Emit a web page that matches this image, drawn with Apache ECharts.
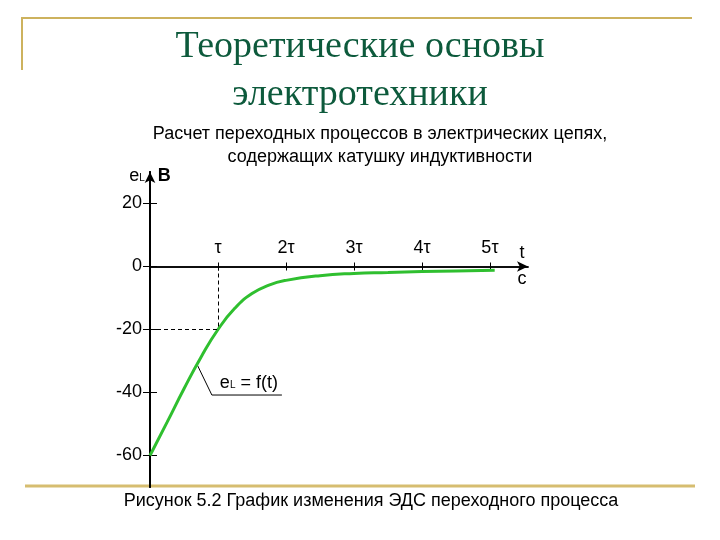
<!DOCTYPE html>
<html>
<head>
<meta charset="utf-8">
<script src="https://cdn.jsdelivr.net/npm/echarts@6/dist/echarts.min.js"></script>
<style>
  html, body { margin: 0; background: #fff; }
  #chart-container { width: 720px; height: 540px; }
</style>
</head>
<body>
<div id="chart-container"></div>
<script>
// t в долях tau, eL в вольтах
var tValues = [0, 0.25, 0.5, 0.75, 1, 1.25, 1.5, 1.75, 2, 2.5, 3, 3.5, 4, 4.5, 5.07];
var eValues = [-60, -49.5, -38.8, -28.8, -20, -13.2, -8.6, -5.9, -4.4, -2.9, -2.2, -1.9, -1.6, -1.4, -1.2];
var xTicks = [1, 2, 3, 4, 5];
var xTickLabels = ["τ", "2τ", "3τ", "4τ", "5τ"];
var yTicks = [20, 0, -20, -40, -60];
var tauPoint = [1, -20];
var leaderLine = [[0.69, -31], [0.91, -40.8], [1.94, -40.8]];

var dom = document.getElementById("chart-container");
var myChart = echarts.init(dom, null, { renderer: "canvas" });

var curve = tValues.map(function (t, i) {
  return [t, eValues[i]];
});

var sans = '"Liberation Sans", Arial, sans-serif';
var gold = "#cdb25e";

var xBase = {
  type: "value",
  min: 0,
  max: 5.56,
  splitLine: { show: false },
  axisLabel: { show: false },
  axisLine: { onZero: true, lineStyle: { color: "#000", width: 1.5 } }
};
var yBase = {
  type: "value",
  min: -70,
  max: 30,
  splitLine: { show: false },
  axisLine: { onZero: true, lineStyle: { color: "#000", width: 2 } }
};

var option = {
  animation: false,
  backgroundColor: "#fff",
  grid: { left: 150, top: 172, width: 378, height: 315 },
  xAxis: [
    Object.assign({}, xBase, {
      position: "top",
      axisLine: {
        onZero: true,
        symbol: ["none", "arrow"],
        symbolSize: [8, 11],
        lineStyle: { color: "#000", width: 1.5 }
      },
      axisTick: { customValues: xTicks, length: 4, lineStyle: { color: "#000" } },
      name: "t\nc",
      nameLocation: "end",
      nameGap: -6,
      nameTextStyle: { color: "#000", fontSize: 18, lineHeight: 26, fontFamily: sans, align: "center" }
    }),
    Object.assign({}, xBase, {
      position: "bottom",
      axisTick: { customValues: xTicks, length: 4, lineStyle: { color: "#000" } }
    })
  ],
  yAxis: [
    Object.assign({}, yBase, {
      position: "left",
      axisLine: {
        onZero: true,
        symbol: ["none", "arrow"],
        symbolSize: [8, 11],
        lineStyle: { color: "#000", width: 2 }
      },
      axisTick: { customValues: yTicks, length: 7, lineStyle: { color: "#000" } },
      axisLabel: { customValues: yTicks, margin: 8, color: "#000", fontSize: 18, fontFamily: sans },
      name: "{e|e}{s|L}{g|}{b|В}",
      nameLocation: "end",
      nameGap: -13,
      nameTextStyle: {
        rich: {
          e: { fontSize: 18, fontFamily: sans, color: "#000" },
          s: { fontSize: 10, fontFamily: sans, color: "#000", padding: [5, 0, 0, 0] },
          g: { width: 13 },
          b: { fontSize: 18, fontFamily: sans, fontWeight: "bold", color: "#000" }
        }
      }
    }),
    Object.assign({}, yBase, {
      position: "left",
      axisTick: { customValues: yTicks, inside: true, length: 7, lineStyle: { color: "#000" } },
      axisLabel: { show: false }
    })
  ],
  series: [
    {
      name: "eL",
      type: "line",
      data: curve,
      smooth: 0.5,
      symbol: "none",
      lineStyle: { color: "#2fbf2f", width: 3 },
      z: 3,
      markLine: {
        silent: true,
        symbol: "none",
        label: { show: false },
        lineStyle: { color: "#000", width: 1, type: [4, 3] },
        data: [
          [{ coord: [tauPoint[0], 0] }, { coord: tauPoint }],
          [{ coord: [0, tauPoint[1]] }, { coord: tauPoint }]
        ]
      }
    },
    {
      name: "leader",
      type: "line",
      data: leaderLine,
      symbol: "none",
      lineStyle: { color: "#000", width: 1 },
      z: 2
    },
    {
      // подписи делений оси t над осью
      name: "tauLabels",
      type: "scatter",
      silent: true,
      symbolSize: 0,
      itemStyle: { opacity: 1 },
      data: xTicks.map(function (k) {
        return [k, 0];
      }),
      label: {
        show: true,
        position: "top",
        distance: 9,
        color: "#000",
        opacity: 1,
        fontSize: 18,
        fontFamily: sans,
        formatter: function (p) {
          return xTickLabels[p.dataIndex];
        }
      }
    }
  ],
  graphic: [
    { type: "line", shape: { x1: 22, y1: 18, x2: 692, y2: 18 }, style: { stroke: gold, lineWidth: 2 } },
    { type: "line", shape: { x1: 22, y1: 17, x2: 22, y2: 70 }, style: { stroke: gold, lineWidth: 2 } },
    { type: "line", shape: { x1: 25, y1: 486, x2: 695, y2: 486 }, style: { stroke: "#d6bd70", lineWidth: 3 } },
    {
      type: "text",
      x: 360,
      y: 71,
      style: {
        text: "Теоретические основы\nэлектротехники",
        font: '38px "Liberation Serif", "Times New Roman", serif',
        lineHeight: 48,
        fill: "#0d5a3c",
        textAlign: "center",
        textVerticalAlign: "middle"
      }
    },
    {
      type: "text",
      x: 380,
      y: 146,
      style: {
        text: "Расчет переходных процессов в электрических цепях,\nсодержащих катушку индуктивности",
        font: "18px " + sans,
        lineHeight: 23,
        fill: "#000",
        textAlign: "center",
        textVerticalAlign: "middle"
      }
    },
    {
      type: "text",
      x: 371,
      y: 501,
      style: {
        text: "Рисунок 5.2 График изменения ЭДС переходного процесса",
        font: "18px " + sans,
        fill: "#000",
        textAlign: "center",
        textVerticalAlign: "middle"
      }
    }
  ]
};

myChart.setOption(option);

// подпись кривой у выноски
var corner = myChart.convertToPixel({ gridIndex: 0 }, leaderLine[1]);
myChart.setOption({
  graphic: [
    {
      id: "curveLabel",
      type: "text",
      x: corner[0] + 8,
      y: corner[1] - 12,
      style: {
        text: "{e|e}{s|L}{e| = f(t)}",
        textVerticalAlign: "middle",
        rich: {
          e: { fontSize: 18, fontFamily: sans, fill: "#000" },
          s: { fontSize: 10, fontFamily: sans, fill: "#000", padding: [5, 0, 0, 0] }
        }
      }
    }
  ]
});

window.addEventListener("resize", myChart.resize);
</script>
</body>
</html>
